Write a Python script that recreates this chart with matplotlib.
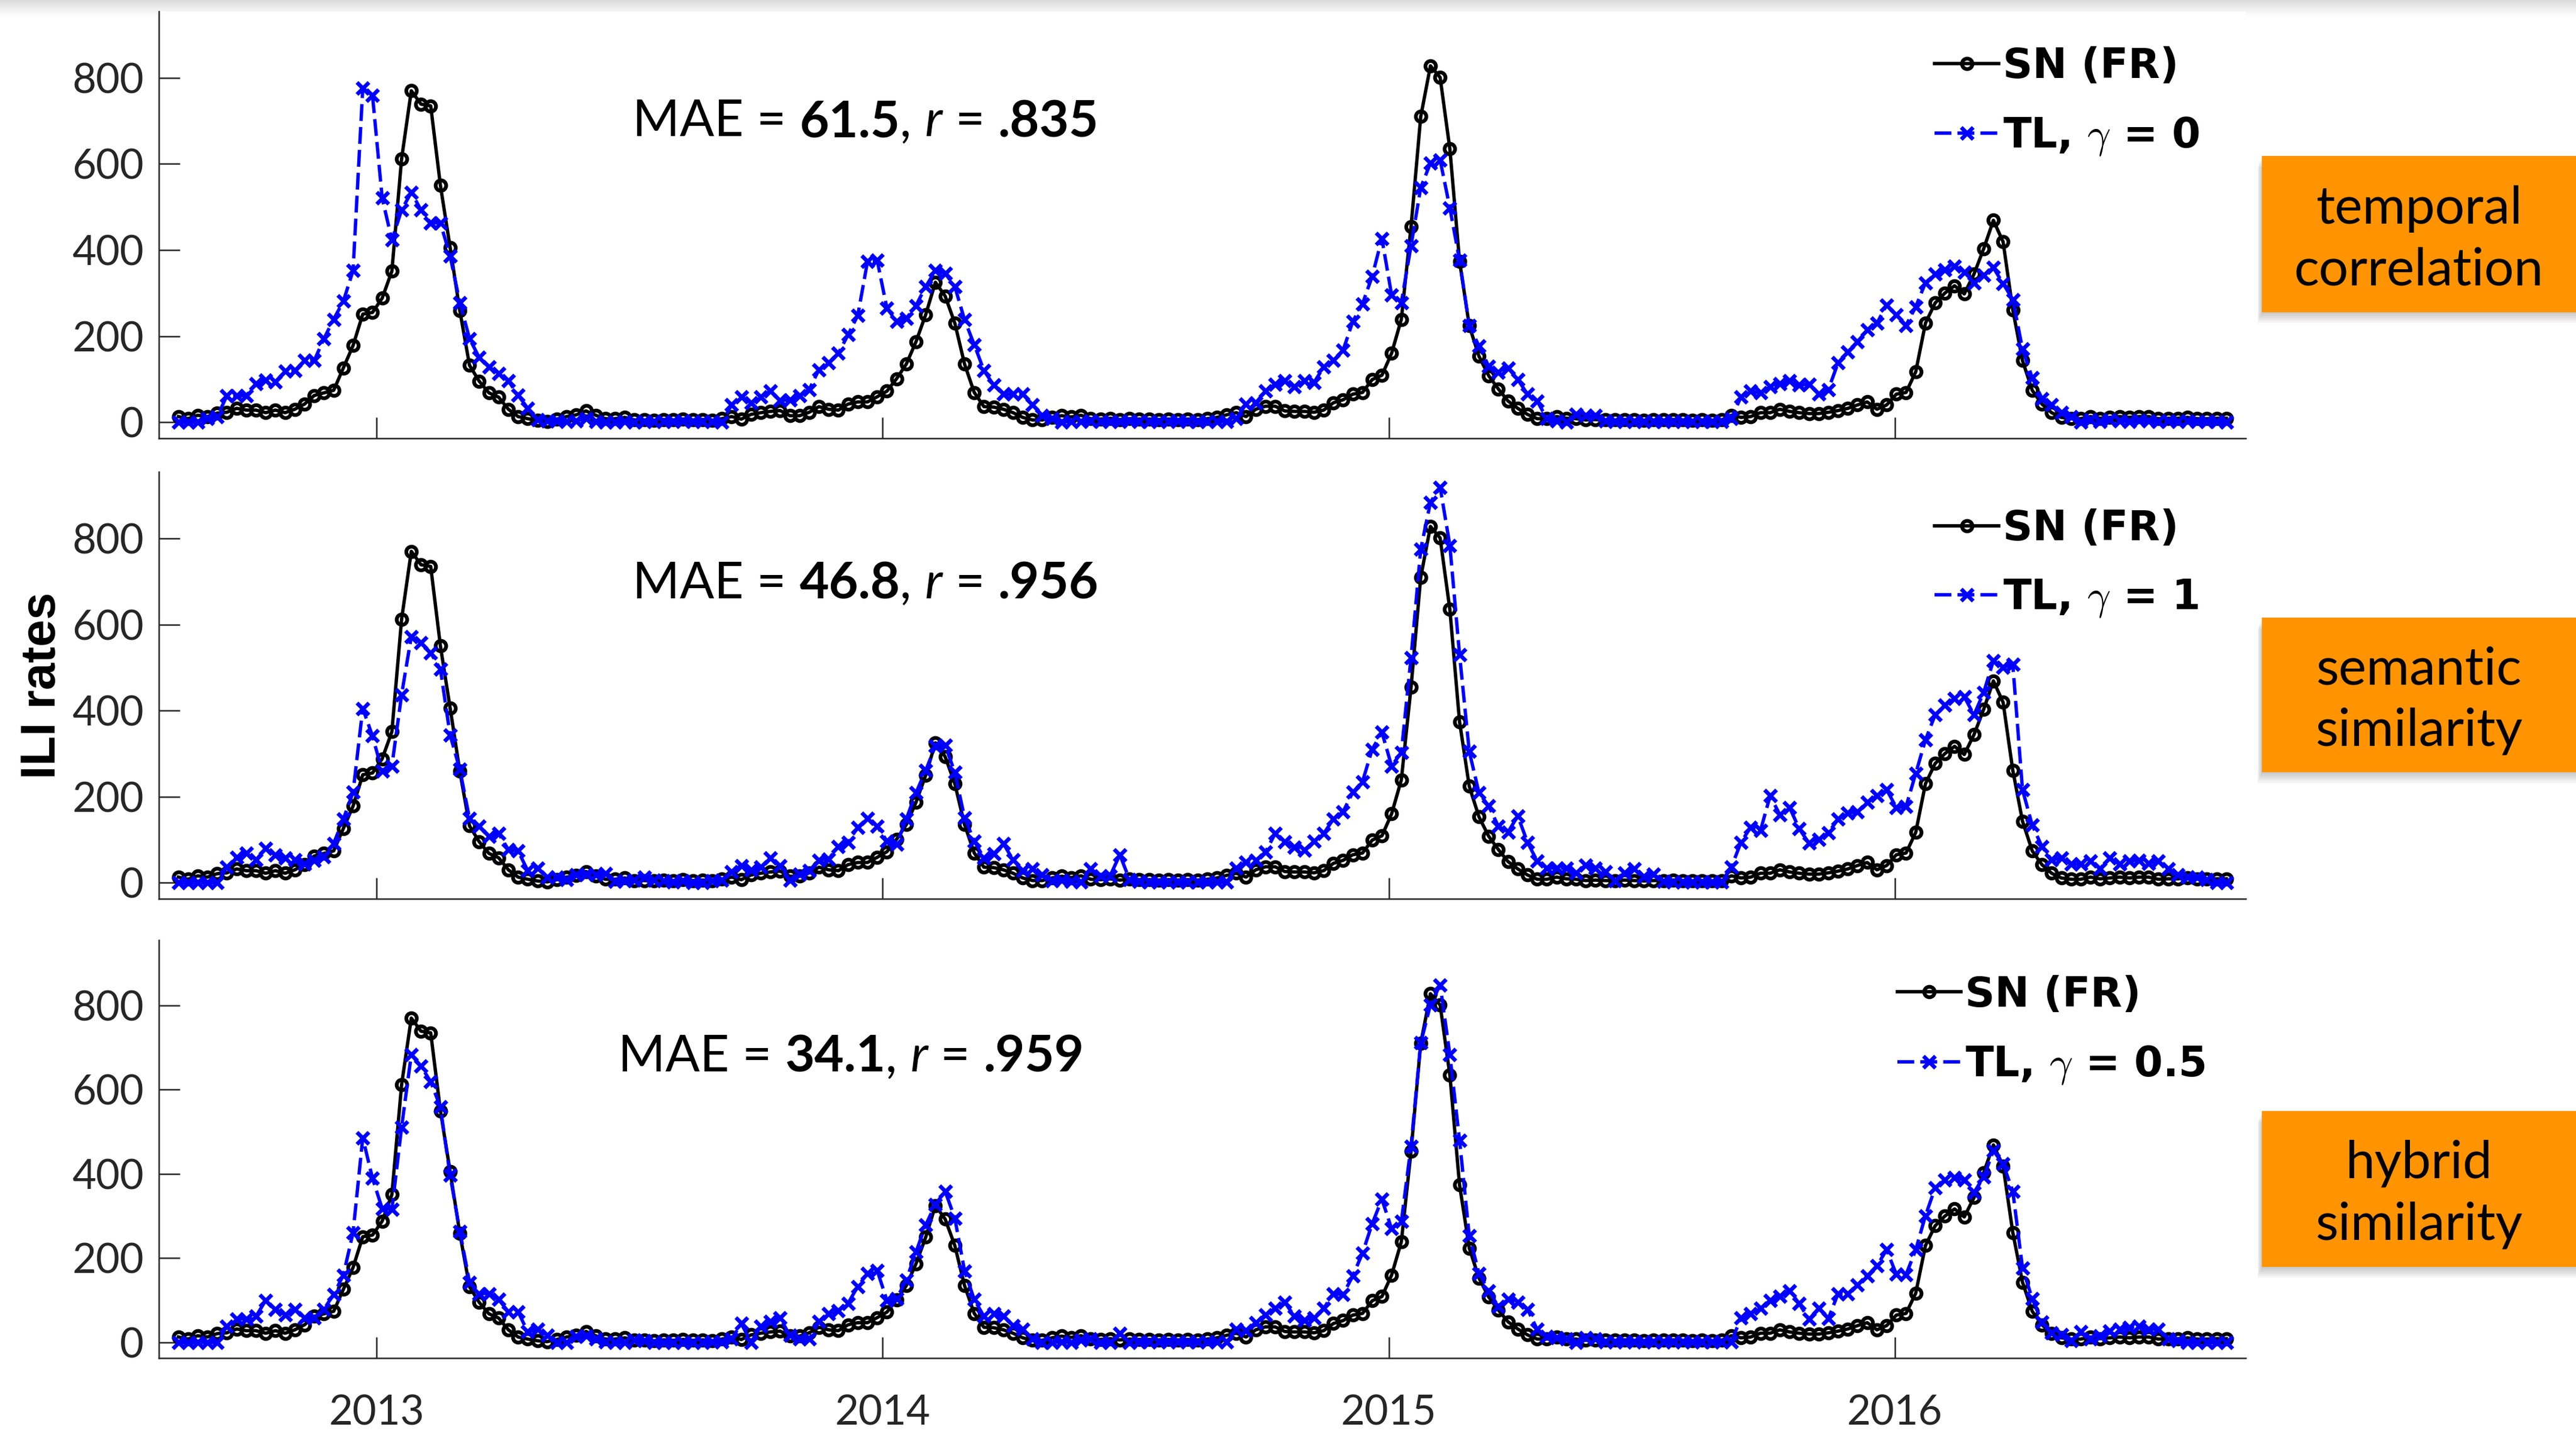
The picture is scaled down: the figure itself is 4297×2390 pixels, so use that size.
import matplotlib
matplotlib.use('Agg')
import matplotlib.pyplot as plt
import matplotlib.dates as mdates
from matplotlib.patches import Rectangle
from matplotlib.font_manager import FontProperties
import numpy as np
import pandas as pd

plt.rcParams['font.family'] = ['Lato', 'DejaVu Sans']

# weekly ILI rates, Aug 2012 - Aug 2016
weeks = pd.date_range('2012-08-11', periods=212, freq='7D')

sn_fr = [13, 8, 16, 13, 21, 23, 32, 28, 28, 22,
         28, 22, 30, 42, 62, 68, 74, 126, 178, 251,
         255, 288, 351, 612, 770, 739, 735, 550, 406, 259,
         132, 95, 68, 58, 30, 13, 8, 4, 2, 7,
         13, 17, 26, 16, 8, 8, 11, 5, 5, 4,
         6, 5, 7, 5, 6, 4, 8, 13, 7, 18,
         22, 25, 27, 15, 15, 23, 36, 30, 28, 42,
         47, 47, 59, 72, 101, 135, 187, 250, 325, 293,
         230, 135, 69, 36, 35, 30, 22, 11, 5, 5,
         11, 15, 12, 16, 8, 7, 9, 6, 8, 7,
         7, 6, 7, 6, 7, 6, 8, 11, 17, 22,
         13, 30, 37, 37, 26, 25, 25, 23, 28, 45,
         52, 65, 69, 99, 109, 160, 239, 454, 710, 828,
         801, 635, 374, 224, 153, 108, 77, 49, 32, 18,
         8, 8, 13, 9, 8, 5, 6, 5, 5, 6,
         5, 4, 5, 5, 6, 5, 4, 5, 4, 5,
         16, 11, 13, 22, 22, 30, 25, 22, 20, 20,
         23, 27, 32, 40, 47, 30, 40, 65, 69, 117,
         230, 277, 300, 317, 298, 344, 403, 469, 419, 261,
         143, 74, 42, 22, 11, 8, 8, 13, 9, 11,
         13, 11, 13, 13, 8, 9, 9, 11, 8, 8,
         9, 9]

tl_g0 = [0, 0, 0, 8, 13, 61, 61, 62, 89, 97,
         94, 118, 120, 143, 143, 194, 239, 281, 352, 776,
         760, 521, 423, 493, 534, 493, 463, 463, 386, 278,
         194, 150, 128, 113, 96, 63, 32, 5, 3, 3,
         1, 3, 8, 1, 0, 0, 1, 0, 1, 1,
         2, 1, 3, 2, 1, 2, 0, 40, 59, 45,
         59, 72, 50, 52, 62, 76, 122, 138, 160, 203,
         248, 373, 376, 265, 234, 241, 271, 315, 352, 346,
         315, 238, 180, 120, 86, 65, 65, 65, 40, 16,
         8, 0, 2, 1, 3, 2, 1, 2, 3, 1,
         2, 1, 2, 3, 1, 2, 1, 2, 1, 8,
         42, 45, 72, 88, 96, 82, 96, 92, 128, 143,
         167, 234, 275, 339, 427, 295, 278, 410, 545, 602,
         609, 498, 376, 224, 177, 130, 116, 126, 99, 65,
         49, 8, 3, 0, 18, 15, 15, 3, 1, 2,
         1, 2, 1, 1, 2, 1, 2, 1, 1, 2,
         8, 59, 72, 68, 82, 89, 96, 86, 88, 65,
         76, 138, 163, 187, 214, 230, 272, 249, 225, 268,
         324, 344, 354, 363, 349, 324, 342, 359, 322, 285,
         170, 103, 55, 40, 22, 13, 0, 5, 2, 5,
         3, 2, 4, 3, 2, 3, 2, 3, 1, 2,
         1, 0]

tl_g1 = [0, 0, 0, 0, 0, 36, 59, 68, 53, 80,
         64, 57, 53, 43, 52, 60, 91, 148, 210, 405,
         341, 259, 271, 437, 572, 557, 534, 496, 343, 263,
         149, 131, 107, 114, 77, 74, 28, 34, 13, 13,
         7, 18, 20, 18, 21, 3, 5, 6, 13, 6,
         5, 1, 5, 0, 0, 5, 6, 26, 40, 30,
         36, 57, 39, 6, 20, 28, 52, 55, 84, 94,
         129, 149, 131, 97, 89, 148, 209, 261, 318, 320,
         256, 151, 97, 57, 67, 91, 53, 28, 32, 18,
         5, 6, 3, 1, 32, 16, 16, 65, 7, 3,
         1, 2, 1, 1, 2, 1, 1, 2, 1, 34,
         47, 52, 71, 114, 95, 82, 76, 96, 114, 148,
         165, 210, 235, 310, 350, 271, 303, 523, 775, 884,
         919, 784, 530, 305, 209, 178, 131, 118, 155, 94,
         50, 34, 34, 34, 23, 41, 34, 25, 5, 23,
         33, 14, 20, 3, 1, 2, 1, 1, 2, 1,
         36, 94, 129, 121, 202, 158, 175, 125, 92, 100,
         116, 148, 162, 165, 187, 202, 216, 175, 177, 254,
         332, 390, 413, 428, 432, 390, 442, 516, 501, 507,
         216, 134, 84, 53, 57, 43, 43, 50, 33, 57,
         43, 50, 52, 45, 50, 33, 18, 13, 13, 7,
         0, 0]

tl_g05 = [0, 0, 0, 0, 0, 39, 56, 56, 62, 100,
          79, 66, 79, 58, 58, 79, 114, 160, 261, 486,
          390, 318, 316, 511, 683, 656, 619, 559, 397, 264,
          143, 116, 116, 102, 73, 73, 25, 31, 17, 0,
          0, 14, 15, 8, 2, 0, 0, 6, 4, 0,
          0, 0, 0, 0, 0, 1, 2, 8, 45, 0,
          39, 50, 58, 17, 8, 8, 50, 69, 76, 93,
          133, 164, 171, 100, 104, 148, 215, 279, 328, 359,
          295, 170, 102, 62, 68, 63, 40, 32, 8, 0,
          0, 2, 0, 6, 8, 0, 0, 22, 0, 1,
          2, 1, 1, 2, 1, 1, 2, 1, 1, 31,
          29, 47, 66, 81, 95, 62, 53, 59, 81, 116,
          114, 158, 212, 282, 340, 270, 287, 466, 711, 802,
          849, 683, 480, 253, 164, 123, 85, 102, 96, 79,
          31, 14, 12, 9, 0, 12, 9, 2, 1, 2,
          1, 1, 2, 1, 1, 2, 1, 1, 2, 1,
          2, 58, 69, 81, 100, 110, 123, 92, 55, 81,
          57, 116, 116, 136, 158, 182, 220, 162, 161, 220,
          301, 367, 386, 392, 386, 356, 393, 455, 424, 359,
          177, 104, 48, 23, 19, 4, 25, 9, 15, 27,
          31, 35, 39, 32, 31, 8, 4, 0, 0, 0,
          0, 0]

gammas = ['0', '1', '0.5']
mae = ['61.5', '46.8', '34.1']
corr = ['.835', '.956', '.959']
methods = ['temporal\ncorrelation', 'semantic\nsimilarity', 'hybrid\nsimilarity']
series = [tl_g0, tl_g1, tl_g05]

W, H = 4297, 2390
fig = plt.figure(figsize=(W / 300, H / 300), dpi=300)

# slight grey shade at the very top
gax = fig.add_axes([0, 1 - 28 / H, 1, 28 / H])
gax.imshow(np.linspace(0.86, 1, 50).reshape(-1, 1), cmap='gray', vmin=0, vmax=1,
           aspect='auto', extent=[0, 1, 0, 1])
gax.axis('off')

rects = [(0.0617, 0.6943, 0.8101, 0.2979),
         (0.0617, 0.3729, 0.8101, 0.2979),
         (0.0617, 0.0523, 0.8101, 0.2916)]
text_pos = [(0.227, 0.707), (0.227, 0.704), (0.220, 0.686)]
leg_pos = [(0.851, 0.787), (0.851, 0.784), (0.833, 0.784)]
box_y = [(260, 521), (1030, 1288), (1853, 2113)]

leg_font = FontProperties(family='DejaVu Sans', weight='bold', size=16.5,
                          math_fontfamily='cm')

for i in range(3):
    ax = fig.add_axes(rects[i])
    ax.plot(weeks, sn_fr, '-o', color='k', lw=1.35, ms=4.2, mfc='none',
            mew=1.5, label='SN (FR)')
    ax.plot(weeks, series[i], '--x', color=(0, 0, 1), lw=1.35, ms=4.6,
            mew=1.6, dashes=(5, 1.8), label=r'TL, $\gamma$ = ' + gammas[i])
    ax.set_xlim(pd.Timestamp('2012-07-28'), pd.Timestamp('2016-09-10'))
    ax.set_ylim(-37, 955)
    ax.set_yticks([0, 200, 400, 600, 800])
    ax.xaxis.set_major_locator(mdates.YearLocator())
    ax.xaxis.set_major_formatter(mdates.DateFormatter('%Y'))
    ax.tick_params(direction='in', length=8.4, width=0.6, colors='#262626',
                   labelsize=16.5)
    ax.tick_params(axis='y', pad=6)
    ax.tick_params(axis='x', pad=14.5)
    if i < 2:
        ax.tick_params(axis='x', labelbottom=False)
    for s in ['top', 'right']:
        ax.spines[s].set_visible(False)
    for s in ['left', 'bottom']:
        ax.spines[s].set_color('#262626')
        ax.spines[s].set_linewidth(0.6)

    # "MAE = x, r = y" built from pieces so the styles can mix
    pieces = [('MAE = ', 'normal', 'normal'), (mae[i], 'bold', 'normal'),
              (', ', 'normal', 'normal'), ('r', 'normal', 'italic'),
              (' = ', 'normal', 'normal'), (corr[i], 'bold', 'normal')]
    prev = ax.text(text_pos[i][0], text_pos[i][1], pieces[0][0], transform=ax.transAxes,
                   fontsize=20.4, va='baseline', ha='left')
    for txt, wt, st in pieces[1:]:
        prev = ax.annotate(txt, xy=(1, 0), xycoords=prev, va='bottom', ha='left',
                           fontsize=20.4, fontweight=wt, fontstyle=st)

    ax.legend(loc='center left', bbox_to_anchor=leg_pos[i], frameon=False,
              prop=leg_font, handlelength=1.55, handletextpad=0.1,
              labelspacing=0.7, borderpad=0, borderaxespad=0)

    # orange method label with a soft shadow
    y0, y1 = box_y[i]
    for k in range(6):
        fig.patches.append(Rectangle((3773 / W - (k + 1) * 1.2 / W, 1 - (y1 + (k + 1) * 3) / H),
                                     1, (y1 - y0) / H, transform=fig.transFigure,
                                     facecolor='black', alpha=0.035, lw=0, zorder=1))
    fig.patches.append(Rectangle((3773 / W, 1 - y1 / H), 1, (y1 - y0) / H,
                                 transform=fig.transFigure, facecolor='#ff9400',
                                 lw=0, zorder=2))
    fig.text(4035 / W, 1 - ((y0 + y1) / 2 + 9) / H, methods[i], ha='center', va='center',
             fontsize=21, linespacing=1.36, zorder=3)

fig.text(71 / W, 1 - 1143 / H, 'ILI rates', rotation=90, ha='center', va='center',
         fontsize=19.5, fontweight='bold', family=['Liberation Sans'])

fig.savefig('out.png', dpi=300)
